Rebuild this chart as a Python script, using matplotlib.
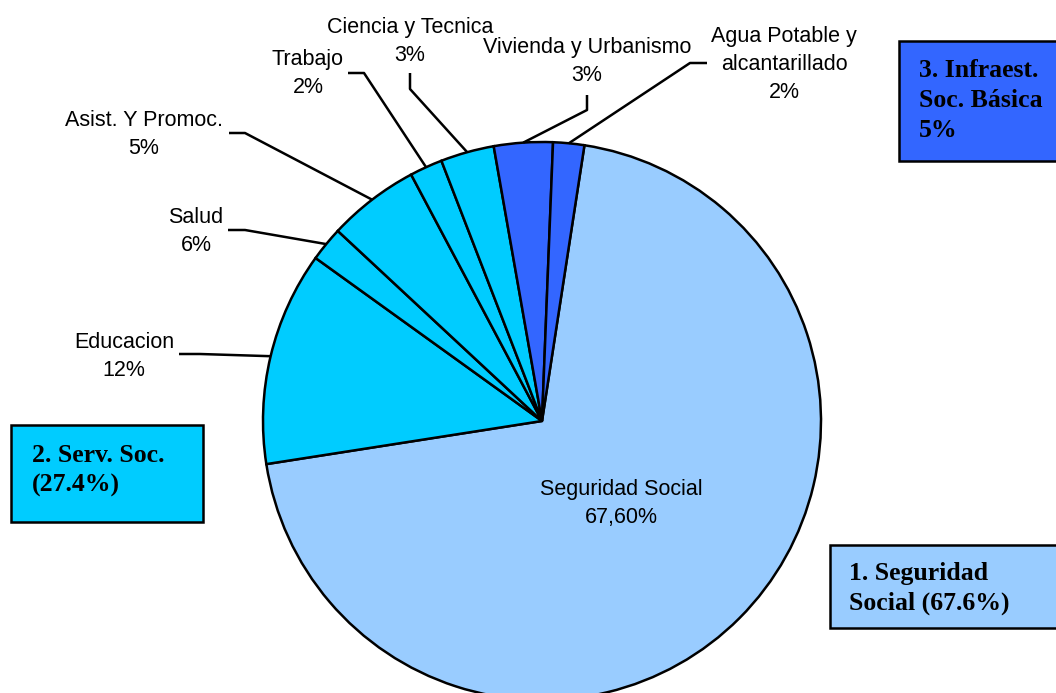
import numpy as np
import matplotlib.pyplot as plt
from matplotlib.patches import Rectangle

# sectores del gasto social, en el orden en que aparecen en la torta
sectores = ['Seguridad Social', 'Educacion', 'Salud', 'Asist. Y Promoc.', 'Trabajo',
            'Ciencia y Tecnica', 'Vivienda y Urbanismo', 'Agua Potable y\nalcantarillado']
# tamaño de cada porcion tal como esta dibujada
porcion = [70.1, 12.4, 2.0, 5.3, 1.9, 3.1, 3.4, 1.8]
# porcentajes escritos en las etiquetas
etiqueta_pct = ['67,60%', '12%', '6%', '5%', '2%', '3%', '3%', '2%']
grupo = [1, 2, 2, 2, 2, 2, 3, 3]

grupos = {1: '1. Seguridad\nSocial (67.6%)',
          2: '2. Serv. Soc.\n(27.4%)',
          3: '3. Infraest.\nSoc. Básica\n5%'}
colores = {1: '#99CCFF', 2: '#00CCFF', 3: '#3366FF'}

W, H = 1056, 693
fig = plt.figure(figsize=(W / 100, H / 100), dpi=100)
ax = fig.add_axes([0, 0, 1, 1])

cx, cy, r = 542, 421, 279
wedges, _ = ax.pie(porcion, colors=[colores[g] for g in grupo],
                   startangle=-81.25, counterclock=True,
                   center=(cx, cy), radius=r,
                   wedgeprops=dict(edgecolor='black', linewidth=1.8))
ax.set_xlim(0, W)
ax.set_ylim(H, 0)   # coordenadas en pixeles, y hacia abajo
ax.set_aspect('equal')
ax.axis('off')

# posicion de cada etiqueta: centro x, linea base de la 1a linea, puntos de la guia
pos = [
    (621, 495, None),
    (124, 348, [(179, 354), (200, 354)]),
    (196, 223, [(228, 230), (245, 230)]),
    (144, 126, [(229, 133), (245, 133)]),
    (308, 65, [(348, 73), (364, 73)]),
    (410, 33, [(410, 73), (410, 89)]),
    (587, 53, [(587, 95), (587, 110)]),
    (784, 42, [(707, 63), (690, 63)]),
]

for w, nombre, pct, (tx, ty, guia) in zip(wedges, sectores, etiqueta_pct, pos):
    lineas = (nombre + '\n' + pct).split('\n')
    for k, ln in enumerate(lineas):
        ax.text(tx, ty + 28 * k, ln, ha='center', va='baseline',
                fontsize=15.5, family='Liberation Sans', color='black')
    if guia:
        a = np.deg2rad((w.theta1 + w.theta2) / 2)
        px, py = cx + r * np.cos(a), cy + r * np.sin(a)
        xs = [p[0] for p in guia] + [px]
        ys = [p[1] for p in guia] + [py]
        ax.plot(xs, ys, color='black', lw=1.8, solid_capstyle='butt')

# recuadros de los grupos
cajas = {3: ((899, 41, 180, 120), (919, 77)),
         2: ((11, 425, 192, 97), (32, 462)),
         1: ((830, 545, 240, 83), (849, 580))}
for g, ((bx, by, bw, bh), (tx, ty)) in cajas.items():
    ax.add_patch(Rectangle((bx, by), bw, bh, facecolor=colores[g],
                           edgecolor='black', lw=1.8))
    for k, ln in enumerate(grupos[g].split('\n')):
        ax.text(tx, ty + 30 * k, ln, ha='left', va='baseline', fontsize=18.5,
                family='Liberation Serif', fontweight='bold', color='black')

fig.savefig('out.png', dpi=100)
